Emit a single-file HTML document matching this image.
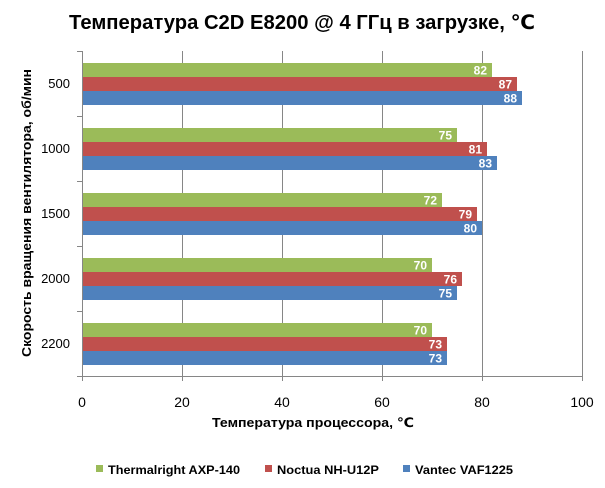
<!DOCTYPE html>
<html><head><meta charset="utf-8"><style>body{margin:0;background:#fff}svg{display:block}</style></head><body>
<svg width="605" height="488" xmlns="http://www.w3.org/2000/svg" font-family="Liberation Sans, DejaVu Sans, sans-serif">
<rect width="605" height="488" fill="#fff"/>
<text x="302" y="29" font-size="20" font-weight="bold" text-anchor="middle" textLength="466" lengthAdjust="spacingAndGlyphs">Температура C2D E8200 @ 4 ГГц в загрузке, ℃</text>
<g stroke="#868686" stroke-width="1">
<line x1="182.5" y1="51" x2="182.5" y2="381"/>
<line x1="282.5" y1="51" x2="282.5" y2="381"/>
<line x1="382.5" y1="51" x2="382.5" y2="381"/>
<line x1="482.5" y1="51" x2="482.5" y2="381"/>
<line x1="582.5" y1="51" x2="582.5" y2="381"/>
<line x1="82.5" y1="51" x2="82.5" y2="381"/>
<line x1="82" y1="376.5" x2="583" y2="376.5"/>
<line x1="77" y1="51.5" x2="82" y2="51.5"/>
<line x1="77" y1="116.5" x2="82" y2="116.5"/>
<line x1="77" y1="181.5" x2="82" y2="181.5"/>
<line x1="77" y1="246.5" x2="82" y2="246.5"/>
<line x1="77" y1="311.5" x2="82" y2="311.5"/>
<line x1="77" y1="376.5" x2="82" y2="376.5"/>
</g>
<g font-size="12" font-weight="bold" fill="#fff" text-anchor="end">
<rect x="83" y="63" width="409" height="14" fill="#9bbb59"/><text x="487" y="74.5">82</text>
<rect x="83" y="77" width="434" height="14" fill="#c0504d"/><text x="512" y="88.5">87</text>
<rect x="83" y="91" width="439" height="14" fill="#4f81bd"/><text x="517" y="102.5">88</text>
<rect x="83" y="128" width="374" height="14" fill="#9bbb59"/><text x="452" y="139.5">75</text>
<rect x="83" y="142" width="404" height="14" fill="#c0504d"/><text x="482" y="153.5">81</text>
<rect x="83" y="156" width="414" height="14" fill="#4f81bd"/><text x="492" y="167.5">83</text>
<rect x="83" y="193" width="359" height="14" fill="#9bbb59"/><text x="437" y="204.5">72</text>
<rect x="83" y="207" width="394" height="14" fill="#c0504d"/><text x="472" y="218.5">79</text>
<rect x="83" y="221" width="399" height="14" fill="#4f81bd"/><text x="477" y="232.5">80</text>
<rect x="83" y="258" width="349" height="14" fill="#9bbb59"/><text x="427" y="269.5">70</text>
<rect x="83" y="272" width="379" height="14" fill="#c0504d"/><text x="457" y="283.5">76</text>
<rect x="83" y="286" width="374" height="14" fill="#4f81bd"/><text x="452" y="297.5">75</text>
<rect x="83" y="323" width="349" height="14" fill="#9bbb59"/><text x="427" y="334.5">70</text>
<rect x="83" y="337" width="364" height="14" fill="#c0504d"/><text x="442" y="348.5">73</text>
<rect x="83" y="351" width="364" height="14" fill="#4f81bd"/><text x="442" y="362.5">73</text>
</g>
<g font-size="13" fill="#000" text-anchor="end">
<text x="70" y="88">500</text>
<text x="70" y="153">1000</text>
<text x="70" y="218">1500</text>
<text x="70" y="283">2000</text>
<text x="70" y="348">2200</text>
</g>
<g font-size="14" fill="#000" text-anchor="middle">
<text x="82" y="407">0</text>
<text x="182" y="407">20</text>
<text x="282" y="407">40</text>
<text x="382" y="407">60</text>
<text x="482" y="407">80</text>
<text x="582" y="407">100</text>
</g>
<text x="313" y="427" font-size="13" font-weight="bold" text-anchor="middle" textLength="202" lengthAdjust="spacingAndGlyphs">Температура процессора, ℃</text>
<text transform="translate(31,213) rotate(-90)" font-size="13" font-weight="bold" text-anchor="middle" textLength="288" lengthAdjust="spacingAndGlyphs">Скорость вращения вентилятора, об/мин</text>
<g font-size="12" font-weight="bold">
<rect x="96" y="465" width="7" height="7" fill="#9bbb59"/><text x="108" y="474" textLength="132" lengthAdjust="spacingAndGlyphs">Thermalright AXP-140</text>
<rect x="265" y="465" width="7" height="7" fill="#c0504d"/><text x="277" y="474" textLength="102" lengthAdjust="spacingAndGlyphs">Noctua NH-U12P</text>
<rect x="403" y="465" width="7" height="7" fill="#4f81bd"/><text x="415" y="474" textLength="98" lengthAdjust="spacingAndGlyphs">Vantec VAF1225</text>
</g>
</svg>
</body></html>
